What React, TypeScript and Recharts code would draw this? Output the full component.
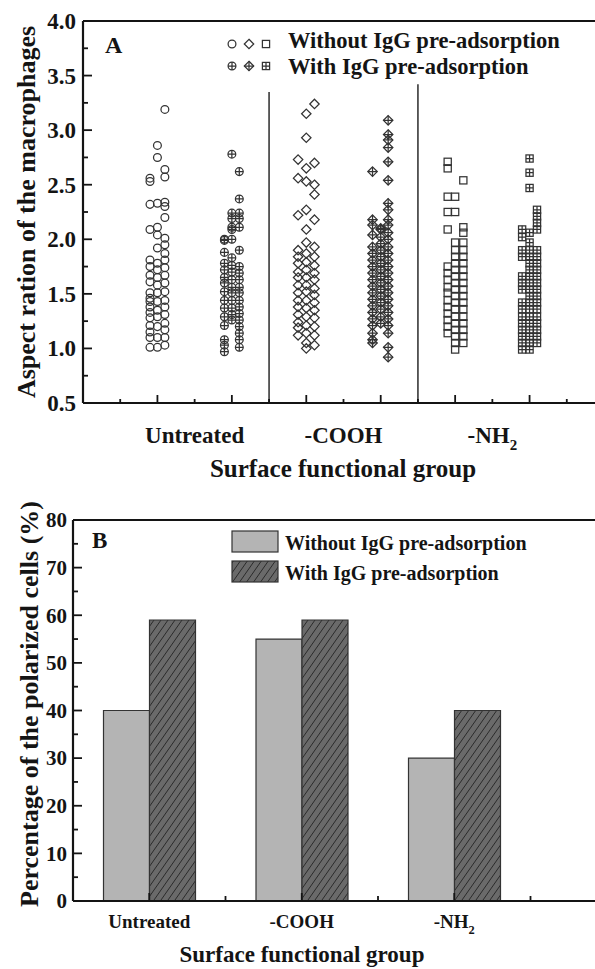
import React from 'react';
import {
  ScatterChart, Scatter, XAxis, YAxis, ReferenceLine, Legend,
  BarChart, Bar,
} from 'recharts';

const FONT = '"Liberation Serif", "Times New Roman", Times, serif';
const INK = '#141414';
const MARK = '#333333';

// ---------------- Panel A ----------------
const yTicksA = [0.5, 0.75, 1.0, 1.25, 1.5, 1.75, 2.0, 2.25, 2.5, 2.75, 3.0, 3.25, 3.5, 3.75, 4.0];
const xTicksA = [0.5, 1, 1.5, 2, 2.5, 3, 3.5, 4, 4.5, 5, 5.5, 6, 6.5];
const categoriesA = ['Untreated', '-COOH', '-NH2'];
const categoryPosA = [1.5, 3.5, 5.5];
const separatorXA = [2.5, 4.5];
const separatorTopA = [3.35, 3.42];
const seriesNames = ['Without IgG pre-adsorption', 'With IgG pre-adsorption'];

// Untreated, without IgG (columns around x = 1)
const untreatedWithoutX = [0.9, 1.0, 1.1];
const untreatedWithoutLeft = [2.56, 2.53, 2.32, 2.09, 1.81, 1.75, 1.67, 1.61, 1.51, 1.46, 1.43, 1.38, 1.33, 1.28, 1.21, 1.15, 1.10, 1.01];
const untreatedWithoutMid = [2.86, 2.75, 2.33, 2.11, 2.04, 1.92, 1.78, 1.72, 1.65, 1.58, 1.51, 1.43, 1.35, 1.29, 1.20, 1.10, 1.01];
const untreatedWithoutRight = [3.19, 2.64, 2.57, 2.34, 2.30, 2.20, 2.01, 1.95, 1.87, 1.81, 1.74, 1.67, 1.60, 1.52, 1.44, 1.38, 1.31, 1.23, 1.17, 1.10, 1.03];

// Untreated, with IgG (x = 2)
const untreatedWithX = [1.9, 2.0, 2.1];
const untreatedWithLeft = [2.00, 1.99, 1.88, 1.78, 1.72, 1.65, 1.60, 1.52, 1.44, 1.37, 1.29, 1.21, 1.08, 1.03, 0.97];
const untreatedWithMid = [2.78, 2.24, 2.19, 2.11, 2.09, 2.00, 1.83, 1.76, 1.70, 1.63, 1.56, 1.51, 1.44, 1.37, 1.31, 1.26];
const untreatedWithRight = [2.62, 2.37, 2.24, 2.19, 2.11, 1.90, 1.75, 1.69, 1.63, 1.56, 1.51, 1.44, 1.38, 1.32, 1.26, 1.20, 1.14, 1.08, 1.01];

// -COOH, without IgG (x = 3)
const coohWithoutX = [2.89, 3.0, 3.11];
const coohWithoutLeft = [2.73, 2.56, 2.22, 1.90, 1.84, 1.78, 1.70, 1.65, 1.58, 1.51, 1.44, 1.38, 1.31, 1.24, 1.19, 1.12];
const coohWithoutMid = [3.15, 2.93, 2.65, 2.53, 2.27, 2.09, 1.97, 1.87, 1.79, 1.72, 1.65, 1.58, 1.52, 1.44, 1.37, 1.29, 1.21, 1.14, 1.05, 1.00];
const coohWithoutRight = [3.24, 2.70, 2.50, 2.41, 2.18, 1.93, 1.84, 1.76, 1.69, 1.63, 1.55, 1.49, 1.42, 1.35, 1.28, 1.20, 1.12, 1.03];

// -COOH, with IgG (x = 4)
const coohWithX = [3.89, 4.0, 4.1];
const coohWithLeft = [2.62, 2.18, 2.13, 2.04, 1.93, 1.87, 1.81, 1.75, 1.69, 1.63, 1.57, 1.51, 1.45, 1.39, 1.33, 1.27, 1.21, 1.14, 1.08, 1.05];
const coohWithMid = [2.10, 2.09, 2.02, 1.96, 1.90, 1.84, 1.78, 1.72, 1.66, 1.60, 1.54, 1.48, 1.42, 1.36, 1.29, 1.23];
const coohWithRight = [3.09, 2.96, 2.91, 2.84, 2.71, 2.54, 2.33, 2.27, 2.18, 2.13, 2.06, 2.00, 1.93, 1.87, 1.81, 1.75, 1.69, 1.63, 1.57, 1.51, 1.45, 1.39, 1.33, 1.27, 1.21, 1.14, 1.01, 0.92];

// -NH2, without IgG (x = 5)
const nh2WithoutX = [4.9, 5.0, 5.11];
const nh2WithoutLeft = [2.71, 2.65, 2.39, 2.25, 2.09, 1.75, 1.69, 1.63, 1.56, 1.51, 1.44, 1.38, 1.32, 1.26, 1.20, 1.14];
const nh2WithoutMid = [2.39, 2.25, 1.97, 1.90, 1.84, 1.78, 1.72, 1.66, 1.60, 1.54, 1.48, 1.42, 1.36, 1.29, 1.23, 1.17, 1.11, 1.05, 0.99];
const nh2WithoutRight = [2.54, 2.11, 2.06, 1.97, 1.90, 1.84, 1.78, 1.72, 1.66, 1.60, 1.54, 1.48, 1.42, 1.36, 1.29, 1.23, 1.17, 1.11, 1.05];

// -NH2, with IgG (x = 6)
const nh2WithX = [5.9, 6.0, 6.1];
const nh2WithLeft = [2.09, 2.02, 1.90, 1.84, 1.66, 1.60, 1.54, 1.42, 1.36, 1.29, 1.23, 1.17, 1.11, 1.05, 0.99];
const nh2WithMid = [2.74, 2.61, 2.47, 2.06, 1.97, 1.90, 1.84, 1.78, 1.72, 1.66, 1.60, 1.54, 1.48, 1.42, 1.36, 1.29, 1.23, 1.17, 1.11, 1.05, 0.99];
const nh2WithRight = [2.27, 2.21, 2.15, 2.09, 1.90, 1.84, 1.78, 1.72, 1.66, 1.60, 1.54, 1.48, 1.42, 1.36, 1.29, 1.23, 1.17, 1.11, 1.05];

// ---------------- Panel B ----------------
const categoriesB = ['Untreated', '-COOH', '-NH2'];
const withoutB = [40, 55, 30];
const withB = [59, 59, 40];
const yTicksB = [0, 5, 10, 15, 20, 25, 30, 35, 40, 45, 50, 55, 60, 65, 70, 75, 80];

// ---------------- helpers ----------------
type Pt = { x: number; y: number };
const toPoints = (xs: number[], cols: number[][]): Pt[] =>
  cols.flatMap((col, i) => col.map((y) => ({ x: xs[i], y })));

const groupsA = [
  { kind: 'circle', crossed: false, data: toPoints(untreatedWithoutX, [untreatedWithoutLeft, untreatedWithoutMid, untreatedWithoutRight]) },
  { kind: 'circle', crossed: true, data: toPoints(untreatedWithX, [untreatedWithLeft, untreatedWithMid, untreatedWithRight]) },
  { kind: 'diamond', crossed: false, data: toPoints(coohWithoutX, [coohWithoutLeft, coohWithoutMid, coohWithoutRight]) },
  { kind: 'diamond', crossed: true, data: toPoints(coohWithX, [coohWithLeft, coohWithMid, coohWithRight]) },
  { kind: 'square', crossed: false, data: toPoints(nh2WithoutX, [nh2WithoutLeft, nh2WithoutMid, nh2WithoutRight]) },
  { kind: 'square', crossed: true, data: toPoints(nh2WithX, [nh2WithLeft, nh2WithMid, nh2WithRight]) },
];

const barDataB = categoriesB.map((c, i) => ({ cat: c, without: withoutB[i], with: withB[i] }));

function Marker({ cx, cy, kind, crossed }: any) {
  if (cx == null || cy == null || isNaN(cx) || isNaN(cy)) return null;
  const s = { fill: 'none', stroke: MARK, strokeWidth: 1.25 };
  let h = 3.9;
  let outline;
  if (kind === 'circle') {
    h = 3.9;
    outline = <circle cx={cx} cy={cy} r={h} {...s} />;
  } else if (kind === 'diamond') {
    h = 4.7;
    outline = <polygon points={`${cx},${cy - h} ${cx + h},${cy} ${cx},${cy + h} ${cx - h},${cy}`} {...s} />;
  } else {
    h = 3.6;
    outline = <rect x={cx - h} y={cy - h} width={2 * h} height={2 * h} {...s} />;
  }
  return (
    <g>
      {outline}
      {crossed && <path d={`M${cx - h},${cy}H${cx + h}M${cx},${cy - h}V${cy + h}`} {...s} />}
    </g>
  );
}

function CategoryText({ x, y, label, size }: any) {
  const m = String(label).match(/^(.*?)(\d)$/);
  return (
    <text x={x} y={y} textAnchor="middle" fontFamily={FONT} fontWeight="bold" fontSize={size} fill={INK}>
      {m ? (
        <>
          {m[1]}
          <tspan fontSize={size * 0.65} dy={size * 0.32}>{m[2]}</tspan>
        </>
      ) : label}
    </text>
  );
}

const XTickA = (props: any) => {
  const { x, y, payload } = props;
  const v = payload.value;
  const major = Number.isInteger(v);
  const idx = categoryPosA.indexOf(v);
  return (
    <g>
      <line x1={x} x2={x} y1={y} y2={y - (major ? 8 : 4)} stroke={INK} strokeWidth={1.8} />
      {idx >= 0 && <CategoryText x={x} y={y + 40} label={categoriesA[idx]} size={23} />}
    </g>
  );
};

const YTickA = (props: any) => {
  const { x, y, payload } = props;
  const v = payload.value;
  const major = Math.abs(v * 2 - Math.round(v * 2)) < 1e-6;
  return (
    <g>
      <line x1={x} x2={x + (major ? 9 : 5)} y1={y} y2={y} stroke={INK} strokeWidth={1.8} />
      {major && (
        <text x={x - 7} y={y} dy="0.35em" textAnchor="end" fontFamily={FONT} fontWeight="bold" fontSize={23} fill={INK}>
          {v.toFixed(1)}
        </text>
      )}
    </g>
  );
};

const XTickB = (props: any) => {
  const { x, y, payload } = props;
  return (
    <g>
      <line x1={x} x2={x} y1={y} y2={y - 8} stroke={INK} strokeWidth={1.8} />
      <line x1={x + 76.25} x2={x + 76.25} y1={y} y2={y - 5} stroke={INK} strokeWidth={1.8} />
      <CategoryText x={x} y={y + 27} label={payload.value} size={19} />
    </g>
  );
};

const YTickB = (props: any) => {
  const { x, y, payload } = props;
  const v = payload.value;
  const major = v % 10 === 0;
  return (
    <g>
      <line x1={x} x2={x + (major ? 9 : 5)} y1={y} y2={y} stroke={INK} strokeWidth={1.8} />
      {major && (
        <text x={x - 6} y={y} dy="0.35em" textAnchor="end" fontFamily={FONT} fontWeight="bold" fontSize={21} fill={INK}>
          {v}
        </text>
      )}
    </g>
  );
};

const YTitleA = () => (
  <text x={35} y={212} transform="rotate(-90 35 212)" textAnchor="middle" fontFamily={FONT} fontWeight="bold" fontSize={26} fill={INK}>
    Aspect ration of the macrophages
  </text>
);
const XTitleA = () => (
  <text x={343} y={477} textAnchor="middle" fontFamily={FONT} fontWeight="bold" fontSize={25} fill={INK}>
    Surface functional group
  </text>
);
const YTitleB = () => (
  <text x={38} y={224} transform="rotate(-90 38 224)" textAnchor="middle" fontFamily={FONT} fontWeight="bold" fontSize={26} fill={INK}>
    Percentage of the polarized cells (%)
  </text>
);
const XTitleB = () => (
  <text x={302} y={482} textAnchor="middle" fontFamily={FONT} fontWeight="bold" fontSize={23} fill={INK}>
    Surface functional group
  </text>
);

const LegendA = () => {
  const kinds = ['circle', 'diamond', 'square'];
  return (
    <svg width={480} height={70} style={{ overflow: 'visible', display: 'block' }}>
      <text x={15} y={33} fontFamily={FONT} fontWeight="bold" fontSize={24} fill={INK}>A</text>
      {kinds.map((k, i) => (
        <Marker key={'a' + k} cx={142 + i * 17} cy={24} kind={k} crossed={false} />
      ))}
      {kinds.map((k, i) => (
        <Marker key={'b' + k} cx={142 + i * 17} cy={46} kind={k} crossed />
      ))}
      <text x={198} y={28} fontFamily={FONT} fontWeight="bold" fontSize={22.5} fill={INK}>{seriesNames[0]}</text>
      <text x={198} y={54} fontFamily={FONT} fontWeight="bold" fontSize={22.5} fill={INK}>{seriesNames[1]}</text>
    </svg>
  );
};

const LegendB = () => (
  <svg width={520} height={110} style={{ overflow: 'visible', display: 'block' }}>
    <text x={12} y={28} fontFamily={FONT} fontWeight="bold" fontSize={23} fill={INK}>B</text>
    <rect x={152} y={11} width={46} height={21} fill="#b4b4b4" stroke={MARK} strokeWidth={1.2} />
    <rect x={152} y={41} width={46} height={21} fill="url(#hatchB)" stroke={MARK} strokeWidth={1.2} />
    <text x={205} y={30} fontFamily={FONT} fontWeight="bold" fontSize={20} fill={INK}>{seriesNames[0]}</text>
    <text x={205} y={60} fontFamily={FONT} fontWeight="bold" fontSize={20} fill={INK}>{seriesNames[1]}</text>
  </svg>
);

export default function App() {
  return (
    <div style={{ position: 'absolute', left: 0, top: 0, width: 595, height: 969, overflow: 'hidden', background: '#fff' }}>
      <svg width={0} height={0} style={{ position: 'absolute' }}>
        <defs>
          <pattern id="hatchB" patternUnits="userSpaceOnUse" width={7} height={10}>
            <rect x={0} y={0} width={7} height={10} fill="#6a6a6a" />
            <path d="M0,10 L7,0 M-1,1.43 L1,-1.43 M6,11.43 L8,8.57" stroke="#2a2a2a" strokeWidth={1} />
          </pattern>
        </defs>
      </svg>

      <div style={{ position: 'absolute', left: 0, top: 0 }}>
        <ScatterChart width={620} height={490} margin={{ top: 21, right: 16, bottom: 0, left: 0 }}>
          <XAxis
            type="number"
            dataKey="x"
            domain={[0, 7]}
            ticks={xTicksA}
            interval={0}
            allowDataOverflow
            height={87}
            tick={<XTickA />}
            tickLine={false}
            tickSize={0}
            tickMargin={0}
            axisLine={{ stroke: INK, strokeWidth: 2.2 }}
            label={<XTitleA />}
          />
          <YAxis
            type="number"
            dataKey="y"
            domain={[0.5, 4]}
            ticks={yTicksA}
            interval={0}
            allowDataOverflow
            width={83}
            tick={<YTickA />}
            tickLine={false}
            tickSize={0}
            tickMargin={0}
            axisLine={{ stroke: INK, strokeWidth: 2.2 }}
            label={<YTitleA />}
          />
          <ReferenceLine y={4} stroke={INK} strokeWidth={2.2} />
          {separatorXA.map((sx, i) => (
            <ReferenceLine
              key={'sep' + i}
              segment={[{ x: sx, y: 0.5 }, { x: sx, y: separatorTopA[i] }]}
              stroke="#444"
              strokeWidth={1.7}
            />
          ))}
          {groupsA.map((g, i) => (
            <Scatter
              key={'g' + i}
              name={seriesNames[i % 2]}
              data={g.data}
              isAnimationActive={false}
              shape={(p: any) => <Marker cx={p.cx} cy={p.cy} kind={g.kind} crossed={g.crossed} />}
            />
          ))}
          <Legend
            layout="vertical"
            align="center"
            verticalAlign="middle"
            wrapperStyle={{ left: 90, top: 20, width: 480, height: 70 }}
            content={() => <LegendA />}
          />
        </ScatterChart>
      </div>

      <div style={{ position: 'absolute', left: 0, top: 480 }}>
        <BarChart
          width={600}
          height={489}
          data={barDataB}
          margin={{ top: 40, right: 0, bottom: 0, left: 0 }}
          barCategoryGap="20%"
          barGap={0}
        >
          <XAxis
            dataKey="cat"
            type="category"
            padding={{ left: 0, right: 69.5 }}
            interval={0}
            height={68}
            tick={<XTickB />}
            tickLine={false}
            tickSize={0}
            tickMargin={0}
            axisLine={{ stroke: INK, strokeWidth: 2.2 }}
            label={<XTitleB />}
          />
          <YAxis
            type="number"
            domain={[0, 80]}
            ticks={yTicksB}
            interval={0}
            width={73}
            tick={<YTickB />}
            tickLine={false}
            tickSize={0}
            tickMargin={0}
            axisLine={{ stroke: INK, strokeWidth: 2.2 }}
            label={<YTitleB />}
          />
          <ReferenceLine y={80} stroke={INK} strokeWidth={2.2} />
          <Bar dataKey="without" name={seriesNames[0]} fill="#b4b4b4" stroke={MARK} strokeWidth={1.2} isAnimationActive={false} />
          <Bar dataKey="with" name={seriesNames[1]} fill="url(#hatchB)" stroke={MARK} strokeWidth={1.2} isAnimationActive={false} />
          <Legend
            layout="vertical"
            align="center"
            verticalAlign="middle"
            wrapperStyle={{ left: 80, top: 40, width: 520, height: 110 }}
            content={() => <LegendB />}
          />
        </BarChart>
      </div>
    </div>
  );
}
